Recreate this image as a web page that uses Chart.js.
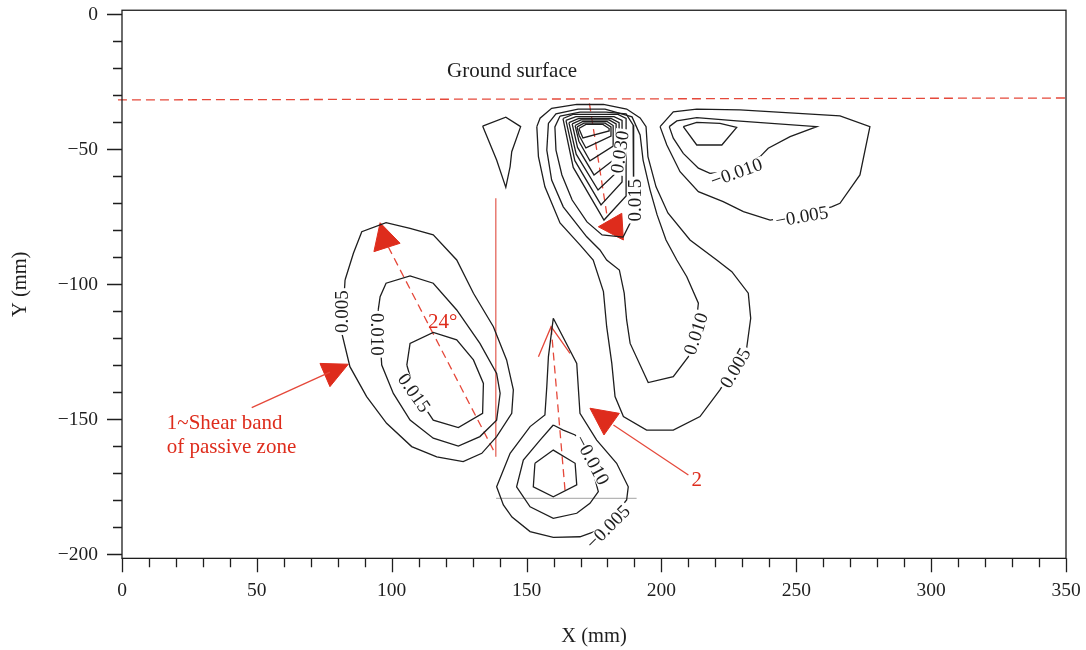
<!DOCTYPE html>
<html><head><meta charset="utf-8">
<script src="https://cdn.jsdelivr.net/npm/chart.js@4.4.1/dist/chart.umd.min.js"></script>
<style>html,body{margin:0;padding:0;background:#fff}#wrap{width:1086px;height:650px}</style>
</head><body><div id="wrap"><canvas id="c" width="1086" height="650"></canvas></div>
<script>
// ---------- axes ----------
const xMin = 0, xMax = 350, xStep = 10, xLabelEvery = 50;
const yMin = -201.5, yMax = 1.5, yStep = 10, yLabelEvery = 50;
const xTitle = 'X (mm)', yTitle = 'Y (mm)';

// ---------- contour lines (x mm, y mm) ----------
// passive zone (left)
const passive005 = [[82.7,-98.4],[85.8,-88.5],[88.9,-80.5],[97.9,-77.2],[106.8,-79.3],[115.4,-81.7],[124.1,-91.0],[130.3,-103.3],[137.7,-115.7],[142.6,-128.0],[145.1,-139.1],[144.5,-147.8],[138.9,-156.4],[133.4,-162.6],[126.5,-165.7],[116.7,-163.9],[107.4,-160.1],[98.1,-151.5],[90.7,-141.6],[84.5,-130.5],[81.5,-118.1]];
const passive010 = [[95.0,-109.5],[95.7,-104.6],[97.9,-99.6],[106.8,-96.9],[115.4,-99.6],[124.1,-109.5],[132.7,-121.9],[138.9,-133.0],[140.2,-140.4],[138.9,-150.3],[132.7,-156.4],[124.7,-159.9],[115.4,-157.0],[106.8,-150.3],[100.6,-140.4],[96.3,-129.9]];
const passive015 = [[105.6,-129.9],[106.8,-121.9],[115.4,-117.8],[124.1,-120.6],[130.3,-128.0],[134.0,-136.7],[133.7,-147.8],[124.7,-153.1],[115.4,-150.3],[108.5,-140.0]];
const smallWedge = [[133.7,-41.4],[142.3,-38.1],[147.8,-41.6],[144.5,-50.9],[143.9,-56.4],[142.3,-64.1],[138.9,-54.0]];
// column (upper middle)
const col005 = [[153.8,-41.6],[155.0,-38.5],[159.3,-34.8],[168.6,-33.4],[178.5,-33.4],[187.1,-35.1],[192.1,-38.4],[194.3,-41.6],[195.0,-52.7],[198.0,-63.9],[202.4,-73.6],[210.6,-83.6],[220.5,-91.0],[226.1,-95.3],[232.2,-103.3],[233.1,-112.6],[231.6,-123.6],[226.6,-131.3],[221.7,-139.1],[214.3,-149.0],[204.4,-154.0],[194.5,-154.0],[185.9,-149.0],[182.8,-141.6],[181.6,-129.3],[179.7,-115.7],[178.5,-102.7],[174.7,-91.0],[169.8,-85.4],[162.4,-77.3],[156.8,-63.9],[154.4,-52.7]];
const col010 = [[158.1,-40.4],[157.5,-50.3],[159.3,-61.4],[163.6,-71.3],[172.3,-82.4],[177.2,-87.3],[179.7,-91.0],[184.4,-94.7],[186.2,-103.3],[187.1,-113.2],[188.4,-121.9],[195.1,-136.4],[204.4,-134.2],[210.0,-126.8],[212.5,-118.0],[213.7,-107.0],[209.4,-97.2],[205.7,-91.0],[201.7,-83.6],[198.4,-74.3],[195.8,-65.1],[193.2,-54.0],[192.1,-44.7],[189.1,-38.0],[179.1,-35.1],[169.1,-35.1],[160.9,-36.9]];
const col015 = [[162.4,-37.7],[169.8,-36.2],[179.5,-36.2],[186.9,-36.9],[189.5,-41.0],[189.8,-50.3],[189.8,-60.6],[189.5,-70.6],[188.4,-77.3],[185.8,-82.5],[178.0,-81.7],[172.4,-76.9],[166.9,-68.8],[163.1,-59.5],[160.9,-50.3],[160.5,-41.7]];
const col020 = [[163.5,-38.6],[167.2,-37.1],[183.9,-37.1],[186.9,-38.6],[186.9,-67.3],[178.7,-76.2],[167.3,-56.7]];
const col025 = [[164.6,-39.3],[168.3,-37.9],[182.4,-37.9],[185.4,-39.3],[185.4,-62.1],[177.6,-70.6],[167.9,-54.2]];
const col030 = [[165.7,-40.1],[169.4,-38.6],[181.3,-38.6],[184.3,-40.1],[184.3,-57.7],[176.5,-65.1],[168.4,-51.8]];
const col035 = [[166.9,-40.6],[170.2,-39.1],[180.6,-39.1],[183.2,-40.6],[183.2,-53.2],[175.0,-59.5],[168.9,-49.3]];
const col040 = [[168.0,-41.2],[170.9,-39.7],[179.8,-39.7],[182.1,-41.2],[182.1,-48.8],[173.5,-54.3],[169.4,-47.0]];
const col045 = [[168.7,-41.7],[171.3,-40.3],[179.1,-40.3],[181.3,-41.7],[181.3,-45.1],[172.0,-49.5],[169.5,-44.9]];
const col050 = [[169.4,-42.3],[172.0,-40.8],[178.3,-40.8],[180.6,-42.3],[180.6,-43.2],[170.9,-45.8]];
// negative zone (upper right)
const neg005 = [[199.5,-41.6],[204.4,-36.1],[213.1,-35.1],[229.1,-35.4],[266.2,-37.6],[277.3,-41.6],[273.6,-59.5],[266.2,-70.0],[263.1,-71.3],[252.0,-74.3],[240.3,-76.2],[230.4,-73.1],[222.9,-69.4],[213.7,-65.7],[206.9,-58.3],[202.0,-48.4]];
const neg010 = [[202.9,-41.6],[205.7,-39.5],[213.1,-38.3],[227.9,-39.5],[257.6,-41.6],[247.7,-45.3],[239.6,-49.6],[236.6,-52.7],[227.8,-58.0],[218.0,-58.9],[213.7,-57.0],[208.1,-51.5],[204.4,-45.9]];
const neg015 = [[208.1,-41.6],[213.1,-48.4],[222.4,-48.4],[227.9,-41.9],[221.7,-40.4],[213.1,-40.0]];
// lower teardrop
const drop005 = [[159.9,-112.6],[168.6,-129.3],[169.8,-147.8],[176.0,-157.7],[183.4,-166.3],[187.7,-175.0],[187.1,-179.9],[178.7,-190.3],[169.8,-193.5],[159.9,-193.7],[151.3,-191.6],[144.6,-186.2],[141.4,-181.7],[138.9,-175.0],[143.9,-162.6],[151.3,-152.7],[156.8,-148.4],[157.5,-137.9],[158.1,-126.8]];
const drop010 = [[159.9,-152.1],[163.6,-154.0],[168.0,-155.8],[173.5,-165.1],[176.6,-176.8],[173.5,-181.1],[168.6,-184.8],[159.9,-186.7],[151.3,-182.4],[146.3,-175.0],[148.8,-165.1],[155.0,-157.7]];
const drop015 = [[153.1,-166.3],[159.9,-161.4],[168.0,-166.3],[168.6,-174.3],[159.9,-178.7],[152.5,-175.0]];

// contour labels: text, x, y, angle(deg)
const contourLabels = [
  ['0.005', 81.5, -110.1, -90], ['0.010', 94.6, -118.5, 90], ['0.015', 108.3, -140.2, 55],
  ['0.030', 184.6, -51.0, -82], ['0.015', 190.2, -68.8, -90], ['0.010', 212.8, -118.3, -72], ['0.005', 227.4, -131.0, -60],
  ['\u22120.010', 227.8, -58.6, -20], ['\u22120.005', 252.0, -74.9, -10],
  ['\u22120.010', 174.2, -165.1, 62], ['\u22120.005', 180.2, -189.9, -45]
];

// ---------- red annotations ----------
const groundLine = [[-1.5,-31.7],[350,-31.0]];
const wallLine = [[138.6,-68.1],[138.6,-163.9]];
const shearDash = [[98.7,-86.1],[137.7,-161.4]];
const shearHead = [[95.7,-77.2],[103.1,-84.8],[93.4,-87.9]];
const colDash = [[173.3,-33.0],[179.7,-73.7]];
const colHead = [[176.6,-78.7],[185.3,-73.7],[185.9,-83.6]];
const dropDash = [[159.1,-115.7],[164.3,-176.8]];
const dropOpenHead = [[154.4,-126.8],[159.1,-115.7],[166.1,-125.6]];
const arrow1Line = [[48.1,-145.7],[77.1,-132.5]];
const arrow1Head = [[73.4,-129.3],[83.9,-129.6],[77.1,-137.9]];
const arrow2Line = [[182.2,-152.1],[210.0,-170.6]];
const arrow2Head = [[173.5,-145.9],[184.4,-147.8],[178.7,-155.8]];
const baseLine = [[138.7,-179.3],[190.8,-179.3]];

// free texts: text, x, y, colour key, align
const freeTexts = [
  ['Ground surface', 144.6, -21.0, 'k', 'center'],
  ['24\u00b0', 118.9, -114.2, 'r', 'center'],
  ['1~Shear band', 16.6, -151.4, 'r', 'left'],
  ['of passive zone', 16.6, -160.6, 'r', 'left'],
  ['2', 213.1, -172.5, 'r', 'center']
];

// ---------- styles ----------
const INK = '#1e1e1e', RED = '#de2c1c', REDL = '#e5483a', GRAY = '#b5b5b5';
const FONT = '"Liberation Serif", "DejaVu Serif", serif';

function pts(a, closed) {
  const d = a.map(p => ({x: p[0], y: p[1]}));
  if (closed) d.push({x: a[0][0], y: a[0][1]});
  return d;
}
function contour(a, closed = true) {
  return {data: pts(a, closed), borderColor: INK, borderWidth: 1.3, pointRadius: 0, fill: false, tension: 0};
}
function redLine(a, dash, color, w) {
  return {data: pts(a, false), borderColor: color || REDL, borderWidth: w || 1.3, borderDash: dash || [], pointRadius: 0, fill: false, tension: 0};
}
function redTri(a) {
  return {data: pts(a, true), borderColor: RED, backgroundColor: RED, borderWidth: 1, pointRadius: 0, fill: 'shape', tension: 0};
}

const datasets = [
  contour(passive005), contour(passive010), contour(passive015), contour(smallWedge),
  contour(col005), contour(col010), contour(col015), contour(col020), contour(col025), contour(col030),
  contour(col035), contour(col040), contour(col045), contour(col050),
  contour(neg005), contour(neg010), contour(neg015),
  contour(drop005), contour(drop010), contour(drop015),
  Object.assign(redLine(groundLine, [9, 5], REDL, 1.3), {clip: false}),
  redLine(wallLine, [], '#e25a4e', 1.2),
  redLine(shearDash, [8, 5]), redTri(shearHead),
  redLine(colDash, [8, 5]), redTri(colHead),
  redLine(dropDash, [8, 5]), redLine(dropOpenHead, [], REDL, 1.3),
  redLine(arrow1Line, [], REDL, 1.3), redTri(arrow1Head),
  redLine(arrow2Line, [], REDL, 1.3), redTri(arrow2Head),
  redLine(baseLine, [], GRAY, 1.2)
];

function fmt(v) { return v < 0 ? '\u2212' + (-v) : String(v); }

const decor = {
  id: 'decor',
  afterDatasetsDraw(chart) {
    const ctx = chart.ctx, xs = chart.scales.x, ys = chart.scales.y;
    ctx.save();
    ctx.textAlign = 'center'; ctx.textBaseline = 'middle';
    ctx.font = '19px ' + FONT;
    contourLabels.forEach(([t, x, y, a]) => {
      const px = xs.getPixelForValue(x), py = ys.getPixelForValue(y);
      ctx.save(); ctx.translate(px, py); ctx.rotate(a * Math.PI / 180);
      const w = ctx.measureText(t).width;
      ctx.fillStyle = '#fff'; ctx.fillRect(-w / 2 - 2, -7, w + 4, 14);
      ctx.fillStyle = INK; ctx.fillText(t, 0, 1);
      ctx.restore();
    });
    ctx.font = '21px ' + FONT;
    freeTexts.forEach(([t, x, y, c, al]) => {
      ctx.fillStyle = c === 'r' ? RED : INK; ctx.textAlign = al;
      ctx.fillText(t, xs.getPixelForValue(x), ys.getPixelForValue(y));
    });
    ctx.restore();
  },
  afterDraw(chart) {
    const ctx = chart.ctx, a = chart.chartArea, xs = chart.scales.x, ys = chart.scales.y;
    ctx.save();
    ctx.strokeStyle = INK; ctx.lineWidth = 1.3;
    ctx.strokeRect(a.left, a.top, a.right - a.left, a.bottom - a.top);
    ctx.beginPath();
    ys.ticks.forEach(t => {
      const py = Math.round(ys.getPixelForValue(t.value)) + 0.5;
      const L = t.value % yLabelEvery === 0 ? 15 : 9;
      ctx.moveTo(a.left - L, py); ctx.lineTo(a.left, py);
    });
    xs.ticks.forEach(t => {
      const px = Math.round(xs.getPixelForValue(t.value)) + 0.5;
      const L = t.value % xLabelEvery === 0 ? 14 : 9;
      ctx.moveTo(px, a.bottom); ctx.lineTo(px, a.bottom + L);
    });
    ctx.stroke();
    // tick labels from the scales
    ctx.fillStyle = INK; ctx.font = '19.5px ' + FONT;
    ctx.textAlign = 'right'; ctx.textBaseline = 'middle';
    ys.ticks.forEach(t => {
      if (t.value % yLabelEvery !== 0) return;
      ctx.fillText(fmt(t.value), a.left - 24, ys.getPixelForValue(t.value) + 1);
    });
    ctx.textAlign = 'center';
    xs.ticks.forEach(t => {
      if (t.value % xLabelEvery !== 0) return;
      ctx.fillText(fmt(t.value), xs.getPixelForValue(t.value), a.bottom + 33);
    });
    // axis titles
    ctx.font = '20.5px ' + FONT;
    ctx.fillText(xTitle, (a.left + a.right) / 2 + 0, a.bottom + 78);
    ctx.save(); ctx.translate(21, (a.top + a.bottom) / 2);
    ctx.rotate(-Math.PI / 2); ctx.fillText(yTitle, 0, 0); ctx.restore();
    ctx.restore();
  }
};

new Chart(document.getElementById('c'), {
  type: 'line',
  data: {datasets},
  options: {
    responsive: false, animation: false, events: [],
    devicePixelRatio: 1,
    layout: {padding: {left: 0, top: 10.25, right: 20, bottom: 0}},
    plugins: {legend: {display: false}, tooltip: {enabled: false}},
    scales: {
      x: {
        type: 'linear', min: xMin, max: xMax,
        grid: {display: false, drawTicks: false}, border: {display: false},
        ticks: {display: false, stepSize: xStep, autoSkip: false, includeBounds: false},
        afterFit: s => { s.height = 91.65; }
      },
      y: {
        type: 'linear', min: yMin, max: yMax,
        grid: {display: false, drawTicks: false}, border: {display: false},
        ticks: {display: false, stepSize: yStep, autoSkip: false, includeBounds: false},
        afterFit: s => { s.width = 122; }
      }
    }
  },
  plugins: [decor]
});
</script></body></html>
